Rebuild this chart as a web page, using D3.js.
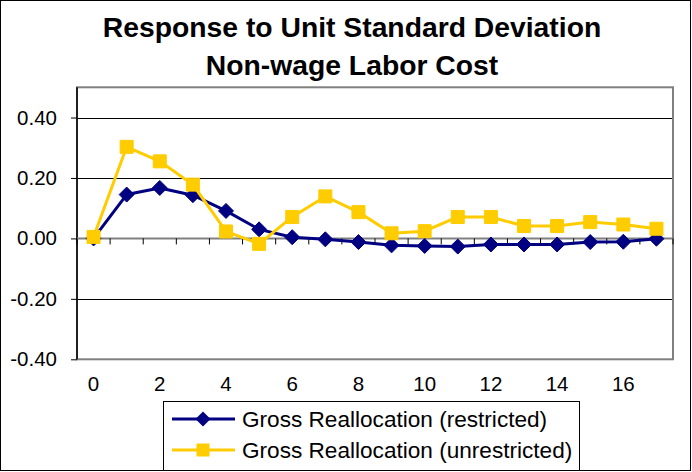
<!DOCTYPE html>
<html><head><meta charset="utf-8">
<script src="https://cdn.jsdelivr.net/npm/d3@7"></script>
<style>html,body{margin:0;padding:0;background:#fff;}svg{display:block;}</style>
</head><body>
<svg id="c" width="692" height="472"></svg>
<script>
const titleLines = ["Response to Unit Standard Deviation", "Non-wage Labor Cost"];
const periods = [0,1,2,3,4,5,6,7,8,9,10,11,12,13,14,15,16,17];
const restricted = [0.000,0.145,0.167,0.143,0.091,0.030,0.004,-0.003,-0.012,-0.023,-0.025,-0.027,-0.020,-0.020,-0.020,-0.012,-0.011,-0.001];
const unrestricted = [0.005,0.303,0.255,0.178,0.023,-0.018,0.071,0.139,0.087,0.017,0.024,0.071,0.071,0.041,0.041,0.054,0.046,0.032];
const yTicks = [-0.4,-0.2,0.0,0.2,0.4];
const xLabelValues = [0,2,4,6,8,10,12,14,16];
const seriesNames = ["Gross Reallocation (restricted)", "Gross Reallocation (unrestricted)"];
const colors = ["#000080", "#FFCC00"];

const svg = d3.select("#c");
const font = "'Liberation Sans', Arial, sans-serif";
const L = 77, R = 673, T = 87.3, B = 359.3;
const fmt = d3.formatLocale({decimal:".", thousands:",", grouping:[3], currency:["",""], minus:"-"}).format(".2f");

svg.append("rect").attr("x",0.5).attr("y",0.5).attr("width",690).attr("height",470)
  .attr("fill","#fff").attr("stroke","#000").attr("stroke-width",1);

svg.selectAll("text.title").data(titleLines).join("text").attr("class","title")
  .attr("x",352).attr("y",(d,i)=>37+i*38)
  .attr("text-anchor","middle").attr("font-family",font).attr("font-weight","bold")
  .attr("font-size",28.3).attr("fill","#000").text(d=>d);

const x = d3.scaleBand().domain(periods).range([L,R]).padding(0);
const y = d3.scaleLinear().domain([-0.4,0.5]).range([B,T]);

// gridlines
svg.append("g").selectAll("line").data(yTicks.filter(v=>v!==-0.4 && v!==0)).join("line")
  .attr("x1",L).attr("x2",R).attr("y1",d=>Math.round(y(d))+0.5).attr("y2",d=>Math.round(y(d))+0.5)
  .attr("stroke","#000").attr("stroke-width",1);

// plot border
svg.append("rect").attr("x",L).attr("y",T).attr("width",R-L).attr("height",B-T)
  .attr("fill","none").attr("stroke","#808080").attr("stroke-width",2);

// y axis
const yAxis = svg.append("g").attr("transform",`translate(${L},0)`)
  .call(d3.axisLeft(y).tickValues(yTicks).tickFormat(fmt).tickSize(6).tickSizeOuter(0).tickPadding(14));
yAxis.select(".domain").attr("stroke","#000").attr("stroke-width",1.5).attr("d",`M0,${T}V${B}`);
yAxis.selectAll(".tick line").attr("stroke","#000");
yAxis.selectAll("text").attr("font-family",font).attr("font-size",20.5).attr("fill","#000");

// x axis at zero
const y0 = y(0);
svg.append("line").attr("x1",L).attr("x2",R).attr("y1",y0).attr("y2",y0)
  .attr("stroke","#808080").attr("stroke-width",2);
const bounds = periods.map(p=>x(p)).concat([x(periods[periods.length-1])+x.bandwidth()]);
svg.append("g").selectAll("line").data(bounds).join("line")
  .attr("x1",d=>d).attr("x2",d=>d).attr("y1",y0).attr("y2",y0+6)
  .attr("stroke","#000").attr("stroke-width",1);

// x labels at bottom
const xAxis = svg.append("g").attr("transform",`translate(0,${B})`)
  .call(d3.axisBottom(x).tickValues(xLabelValues).tickSize(0).tickPadding(17));
xAxis.select(".domain").remove();
xAxis.selectAll("text").attr("font-family",font).attr("font-size",20.5).attr("fill","#000");

const line = d3.line().x((d,i)=>x(periods[i])+x.bandwidth()/2).y(d=>y(d));
const shapes = {
  diamond: "M0,-7.5L7.5,0L0,7.5L-7.5,0Z",
  square: "M-6.5,-6.5H6.5V6.5H-6.5Z"
};

function drawSeries(vals, color, kind){
  const g = svg.append("g");
  g.append("path").datum(vals).attr("d",line).attr("fill","none")
    .attr("stroke",color).attr("stroke-width",3).attr("stroke-linejoin","round");
  g.selectAll("path.m").data(vals).join("path").attr("class","m")
    .attr("transform",(d,i)=>`translate(${x(periods[i])+x.bandwidth()/2},${y(d)})`)
    .attr("d", shapes[kind])
    .attr("fill",color).attr("stroke",color).attr("stroke-width",1);
}
drawSeries(restricted, colors[0], "diamond");
drawSeries(unrestricted, colors[1], "square");

// legend
const lg = svg.append("g");
lg.append("rect").attr("x",163.5).attr("y",401.5).attr("width",416).attr("height",80)
  .attr("fill","#fff").attr("stroke","#000").attr("stroke-width",1);
const kinds = ["diamond","square"];
seriesNames.forEach((name,i)=>{
  const cy = 419 + i*31;
  lg.append("line").attr("x1",172).attr("x2",235).attr("y1",cy).attr("y2",cy)
    .attr("stroke",colors[i]).attr("stroke-width",3);
  lg.append("path").attr("transform",`translate(203,${cy})`)
    .attr("d", shapes[kinds[i]]).attr("fill",colors[i]);
  lg.append("text").attr("x",242).attr("y",cy+8).attr("font-family",font)
    .attr("font-size",22.6).attr("fill","#000").text(name);
});
// outer border bottom over legend
svg.append("line").attr("x1",0).attr("x2",691).attr("y1",470.5).attr("y2",470.5).attr("stroke","#000");
svg.append("rect").attr("x",0).attr("y",471).attr("width",692).attr("height",1).attr("fill","#fff");
</script>
</body></html>
